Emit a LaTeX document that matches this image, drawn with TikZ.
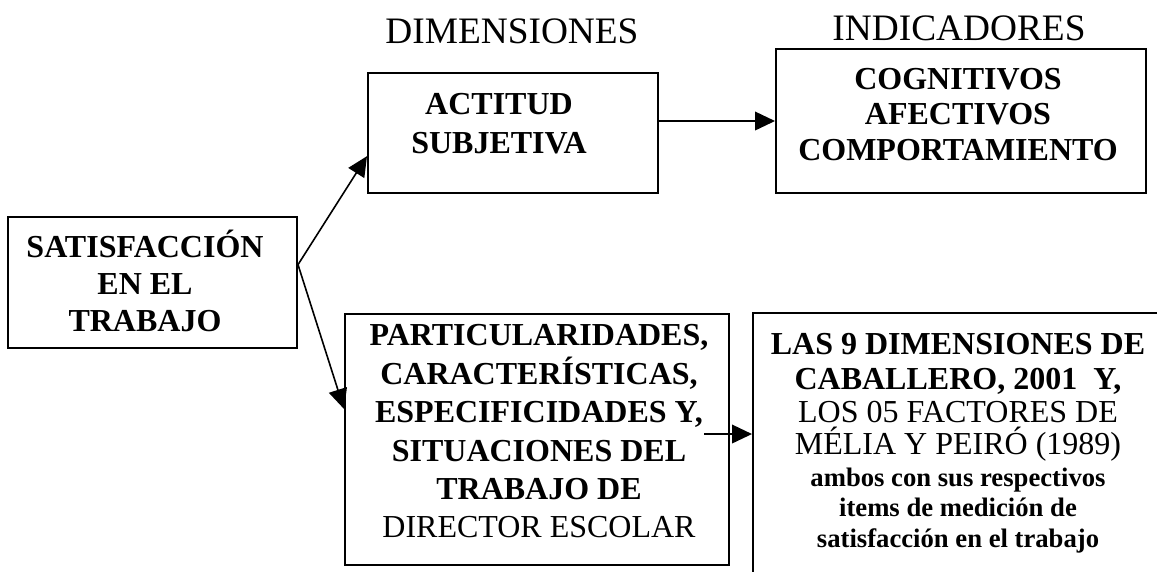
\documentclass[tikz,border=0pt]{standalone}
\usepackage{fontspec}
\setmainfont{Liberation Serif}
\usetikzlibrary{arrows.meta}

\begin{document}
\begin{tikzpicture}[x=0.375pt, y=-0.375pt,
  caja/.style={draw, line width=0.75pt, inner sep=0pt},
  texto/.style={inner sep=0pt, align=center, font=\fontsize{12}{#1}\selectfont\bfseries},
  texto/.default=13.8pt,
  titulo/.style={inner sep=0pt, font=\fontsize{14}{16}\selectfont},
  flecha/.style={line width=0.6pt, -{Triangle[length=7.5pt, width=7pt]}}]

\useasboundingbox (0,0) rectangle (1157,571);
\clip (0,0) rectangle (1157,571);

% TITULOS %%%%%%%%%%%%%%%%%%%%%%%%%%%%%%%%%%%%%%%%%%%%%%%%%%%%%%%%%%%%%%%%

\node[titulo] (dim) at (512,31) {DIMENSIONES};
\node[titulo] (ind) at (959,28.5) {INDICADORES};

% CAJAS %%%%%%%%%%%%%%%%%%%%%%%%%%%%%%%%%%%%%%%%%%%%%%%%%%%%%%%%%%%%%%%%%%

\node[caja, minimum width=289*0.375pt, minimum height=131*0.375pt] (satis) at (152.5,282.5) {};
\node[caja, minimum width=290*0.375pt, minimum height=120*0.375pt] (actitud) at (513,133) {};
\node[caja, minimum width=370*0.375pt, minimum height=144*0.375pt] (cog) at (961,121) {};
\node[caja, minimum width=384*0.375pt, minimum height=251*0.375pt] (partic) at (537,439.5) {};
\node[caja, minimum width=410*0.375pt, minimum height=287*0.375pt] (dimcab) at (958,456.5) {};

% TEXTOS %%%%%%%%%%%%%%%%%%%%%%%%%%%%%%%%%%%%%%%%%%%%%%%%%%%%%%%%%%%%%%%%%

\node[texto] (satistxt) at (145,281) {SATISFACCIÓN\\EN EL\\TRABAJO};
\node[texto=14.6pt] (actitudtxt) at (499,124) {ACTITUD\\SUBJETIVA};
\node[texto=13.3pt] (cogtxt) at (958,114.5) {COGNITIVOS\\AFECTIVOS\\COMPORTAMIENTO};
\node[texto=14.4pt] (partictxt) at (539,431.5) {PARTICULARIDADES,\\CARACTERÍSTICAS,\\ESPECIFICIDADES Y,\\SITUACIONES DEL\\TRABAJO DE\\{\mdseries DIRECTOR ESCOLAR}};
\node[texto=11pt, anchor=north] (dimcabtxt) at (958,333) {LAS 9 DIMENSIONES DE\\[2.1pt]CABALLERO, 2001\ \ Y,\\[1.4pt]{\mdseries LOS 05 FACTORES DE}\\[1pt]{\mdseries MÉLIA Y PEIRÓ (1989)}\\[1pt]{\fontsize{10}{11}\selectfont ambos con sus respectivos}\\[0.3pt]{\fontsize{10}{11}\selectfont items de medición de}\\[0.6pt]{\fontsize{10}{11}\selectfont satisfacción en el trabajo}};

% FLECHAS %%%%%%%%%%%%%%%%%%%%%%%%%%%%%%%%%%%%%%%%%%%%%%%%%%%%%%%%%%%%%%%%

\draw[flecha] (satis.7) -- (actitud.189);
\draw[flecha] (satis.7) -- (partic.171);
\draw[flecha] (actitud.east |- cog.west) -- (cog.west);
\coordinate (cola) at (704,434);
\draw[flecha] (cola) -- (cola -| dimcab.west);

\end{tikzpicture}
\end{document}
